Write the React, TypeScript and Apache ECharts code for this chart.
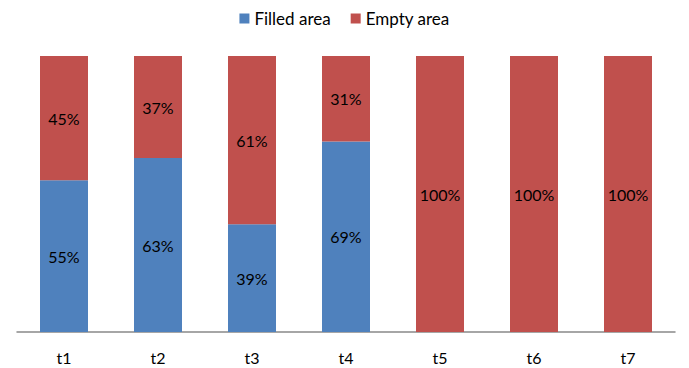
import React, { useEffect, useRef } from "react";
import * as echarts from "echarts";

const categories = ["t1", "t2", "t3", "t4", "t5", "t6", "t7"];
const filledArea = [55, 63, 39, 69, 0, 0, 0];
const emptyArea = [45, 37, 61, 31, 100, 100, 100];

const FONT = "Lato, 'Open Sans', sans-serif";

export default function App() {
  const ref = useRef<HTMLDivElement>(null);

  useEffect(() => {
    if (!ref.current) return;
    const chart = echarts.init(ref.current, null, { renderer: "svg" });
    const label = {
      show: true,
      position: "inside",
      color: "#000",
      fontFamily: FONT,
      fontSize: 16,
      formatter: (p: any) => (p.value > 0 ? `${p.value}%` : ""),
    };
    chart.setOption({
      animation: false,
      textStyle: { fontFamily: FONT },
      legend: {
        top: 5,
        left: "center",
        itemWidth: 10,
        itemHeight: 10,
        itemGap: 20,
        icon: "rect",
        textStyle: { fontFamily: FONT, fontSize: 17, color: "#000" },
        data: ["Filled area", "Empty area"],
      },
      grid: { left: 17, right: 14, top: 56, bottom: 36 },
      xAxis: {
        type: "category",
        data: categories,
        axisLine: { lineStyle: { color: "#898989", width: 1.5 } },
        axisTick: { show: false },
        axisLabel: { color: "#000", fontFamily: FONT, fontSize: 16, margin: 17 },
      },
      yAxis: {
        type: "value",
        min: 0,
        max: 100,
        show: false,
        splitLine: { show: false },
      },
      series: [
        {
          name: "Filled area",
          type: "bar",
          stack: "total",
          barWidth: 48,
          itemStyle: { color: "#4F81BD" },
          label,
          data: filledArea,
        },
        {
          name: "Empty area",
          type: "bar",
          stack: "total",
          barWidth: 48,
          itemStyle: { color: "#C0504D" },
          label,
          data: emptyArea,
        },
      ],
    });
    return () => chart.dispose();
  }, []);

  return (
    <div
      ref={ref}
      style={{ position: "absolute", left: 0, top: 0, width: 689, height: 368 }}
    />
  );
}
